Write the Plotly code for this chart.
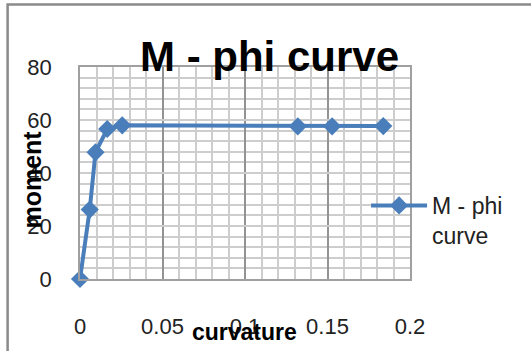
import plotly.graph_objects as go

# Data
curvature = [0, 0.0059, 0.0094, 0.0165, 0.0256, 0.1320, 0.1528, 0.1838]
moment = [0, 26.2, 47.8, 56.6, 58.0, 57.6, 57.6, 57.7]
series_name = "M - phi<br>curve"
chart_title = "M - phi curve"
x_title = "curvature"
y_title = "moment"
x_ticks = [0, 0.05, 0.1, 0.15, 0.2]
x_ticktext = ["0", "0.05", "0.1", "0.15", "0.2"]
y_ticks = [0, 20, 40, 60, 80]

W, H = 531, 351
L, R, T, B = 79.5, 121, 67.3, 70.3
pw = W - L - R
ph = H - T - B

def px_x(p):
    return (p - L) / pw

def px_y(p):
    return 1 - (p - T) / ph

BLUE = "#4a7ebb"
FONT = "Liberation Sans, Arial, sans-serif"

fig = go.Figure()
fig.add_trace(go.Scatter(
    x=curvature, y=moment, name=series_name, mode="lines+markers",
    line=dict(color=BLUE, width=4),
    marker=dict(symbol="diamond", size=14, color=BLUE),
    cliponaxis=False,
))

fig.update_layout(
    width=W, height=H,
    margin=dict(l=L, r=R, t=T, b=B, pad=0),
    paper_bgcolor="white", plot_bgcolor="white",
    font=dict(family=FONT, color="#222"),
    showlegend=True,
    legend=dict(
        x=px_x(366), y=px_y(185), xanchor="left", yanchor="top",
        font=dict(size=23, family=FONT, color="#222"),
        valign="top", itemwidth=56, bgcolor="rgba(0,0,0,0)",
    ),
    xaxis=dict(
        range=[0, 0.2], tickvals=x_ticks, ticktext=x_ticktext,
        ticks="outside", ticklen=27, tickcolor="rgba(0,0,0,0)",
        tickfont=dict(size=22, family=FONT, color="#222"),
        showgrid=True, gridcolor="#939393", gridwidth=1.5,
        minor=dict(dtick=0.01, showgrid=True, gridcolor="#cdcdcd", gridwidth=1.5),
        showline=True, mirror=True, linecolor="#a0a0a0", linewidth=1.5,
        zeroline=False, fixedrange=True,
    ),
    yaxis=dict(
        range=[0, 80], tickvals=y_ticks,
        ticks="outside", ticklen=22, tickcolor="rgba(0,0,0,0)",
        tickfont=dict(size=22, family=FONT, color="#222"),
        showgrid=True, gridcolor="#cdcdcd", gridwidth=1.5,
        minor=dict(dtick=4, showgrid=True, gridcolor="#cdcdcd", gridwidth=1.5),
        showline=True, mirror=True, linecolor="#a0a0a0", linewidth=1.5,
        zeroline=False, fixedrange=True,
    ),
    annotations=[
        dict(text="<b>" + chart_title + "</b>", xref="paper", yref="paper",
             x=px_x(269.5), y=px_y(57), xanchor="center", yanchor="middle",
             showarrow=False, font=dict(size=42, family=FONT, color="black")),
        dict(text="<b>" + x_title + "</b>", xref="paper", yref="paper",
             x=px_x(244), y=px_y(334), xanchor="center", yanchor="middle",
             showarrow=False, font=dict(size=23, family=FONT, color="black")),
        dict(text="<b>" + y_title + "</b>", xref="paper", yref="paper",
             x=px_x(31.5), y=px_y(180.5), xanchor="center", yanchor="middle",
             textangle=-90, showarrow=False,
             font=dict(size=25, family=FONT, color="black")),
    ],
    shapes=[
        dict(type="rect", xref="paper", yref="paper",
             x0=px_x(7), x1=px_x(560), y0=px_y(4.5), y1=px_y(380),
             line=dict(color="#8a8a8a", width=2.5), fillcolor="rgba(0,0,0,0)",
             layer="below"),
    ],
)

fig.write_html("out.html")
